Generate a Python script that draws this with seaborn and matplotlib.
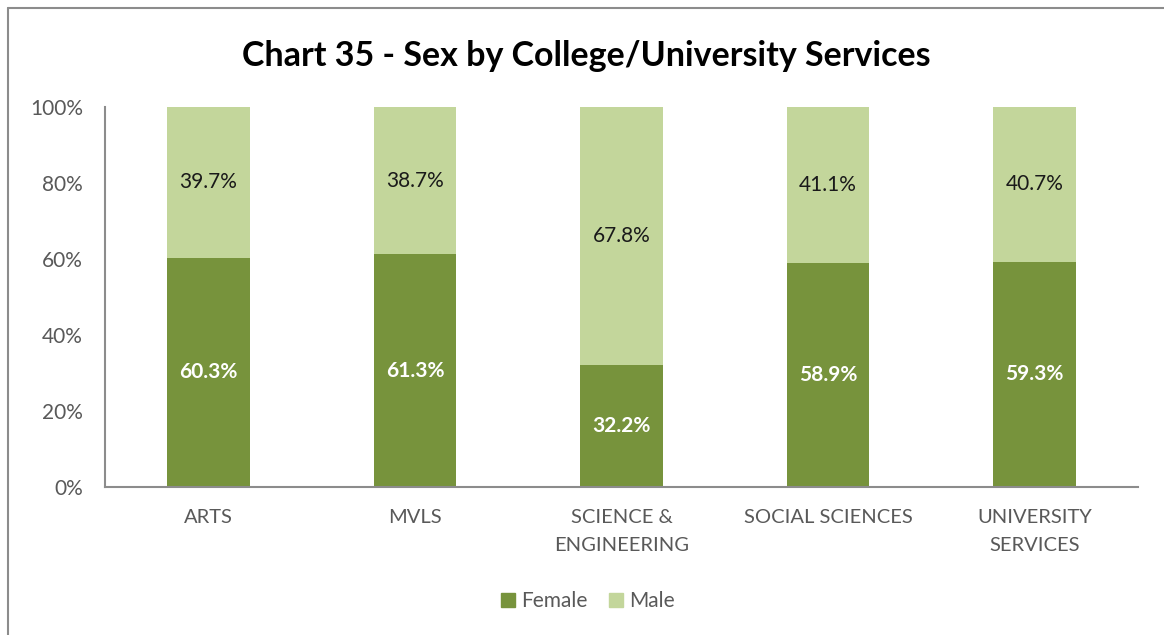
import matplotlib
matplotlib.use("Agg")
import matplotlib.pyplot as plt
import seaborn as sns
from matplotlib.patches import Patch
from matplotlib.lines import Line2D
from matplotlib.ticker import FuncFormatter

# data
categories = ["ARTS", "MVLS", "SCIENCE &\nENGINEERING", "SOCIAL SCIENCES", "UNIVERSITY\nSERVICES"]
female = [60.3, 61.3, 32.2, 58.9, 59.3]
male = [39.7, 38.7, 67.8, 41.1, 40.7]

female_col = "#77933C"
male_col = "#C3D69B"
grey = "#595959"

sns.set_theme(style="white")
plt.rcParams["font.family"] = ["Lato", "DejaVu Sans"]

fig = plt.figure(figsize=(11.64, 6.35), dpi=100)
ax = fig.add_axes([0.0902, 0.2331, 0.8875, 0.5984])

totals = [f + m for f, m in zip(female, male)]
sns.barplot(x=categories, y=totals, color=male_col, width=0.4, saturation=1,
            linewidth=0, ax=ax)
sns.barplot(x=categories, y=female, color=female_col, width=0.4, saturation=1,
            linewidth=0, ax=ax)

# labels in the middle of each segment
male_bars = ax.containers[0]
female_bars = ax.containers[1]
for bar, f, m in zip(male_bars, female, male):
    cx = bar.get_x() + bar.get_width() / 2
    ax.text(cx, f + m / 2, f"{m:.1f}%", ha="center", va="center", fontsize=15, color="#1a1a1a")
for bar, f in zip(female_bars, female):
    cx = bar.get_x() + bar.get_width() / 2
    ax.text(cx, f / 2, f"{f:.1f}%", ha="center", va="center", fontsize=15,
            color="white", fontweight="bold")

ax.set_ylim(0, 100)
ax.set_yticks(range(0, 101, 20))
ax.yaxis.set_major_formatter(FuncFormatter(lambda v, p: f"{v:.0f}%"))
ax.tick_params(axis="y", length=0, pad=16, labelsize=15, labelcolor=grey)
ax.tick_params(axis="x", length=0, pad=16, labelsize=14.5, labelcolor=grey)
for lab in ax.get_xticklabels():
    lab.set_linespacing(1.75)
ax.set_xlabel("")
ax.set_ylabel("")

sns.despine(ax=ax)
for s in ["left", "bottom"]:
    ax.spines[s].set_color("#8c8c8c")
    ax.spines[s].set_linewidth(1.5)

fig.suptitle("Chart 35 - Sex by College/University Services", x=0.504, y=0.937,
             fontsize=24.5, fontweight="bold", color="black")

handles = [Patch(color=female_col, label="Female"), Patch(color=male_col, label="Male")]
fig.legend(handles=handles, loc="center", bbox_to_anchor=(0.505, 0.053), ncol=2, frameon=False,
           fontsize=15, labelcolor=grey, handlelength=0.7, handleheight=0.7,
           handletextpad=0.3, columnspacing=1.0)

# outer chart border (left and top)
fig.add_artist(Line2D([8 / 1164, 8 / 1164], [0, 1 - 8 / 635], color="#8c8c8c", lw=1.5,
                      transform=fig.transFigure))
fig.add_artist(Line2D([8 / 1164, 1], [1 - 8 / 635, 1 - 8 / 635], color="#8c8c8c", lw=1.5,
                      transform=fig.transFigure))

fig.savefig("out.png", dpi=100)
